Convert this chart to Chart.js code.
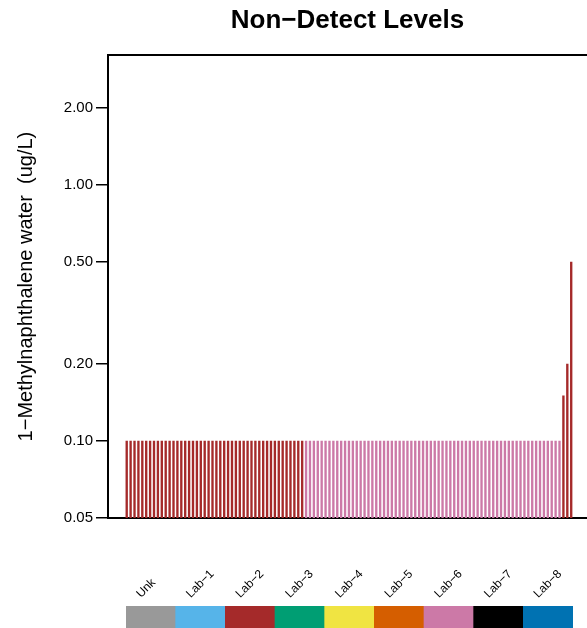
<!DOCTYPE html>
<html lang="en">
<head>
<meta charset="UTF-8">
<title>Non-Detect Levels</title>
<script src="https://cdn.jsdelivr.net/npm/chart.js"></script>
<style>
  body { margin: 0; background: #fff; overflow: hidden; }
  canvas { display: block; }
</style>
</head>
<body>
<canvas id="ndChart" width="587" height="560"></canvas>
<canvas id="labStrip" width="587" height="68"></canvas>
<script>
// non-detect reporting levels, in sample order
const lab2First = [
  0.10, 0.10, 0.10, 0.10, 0.10, 0.10, 0.10, 0.10, 0.10, 0.10,
  0.10, 0.10, 0.10, 0.10, 0.10, 0.10, 0.10, 0.10, 0.10, 0.10,
  0.10, 0.10, 0.10, 0.10, 0.10, 0.10, 0.10, 0.10, 0.10, 0.10,
  0.10, 0.10, 0.10, 0.10, 0.10, 0.10, 0.10, 0.10, 0.10, 0.10,
  0.10, 0.10, 0.10, 0.10, 0.10, 0.10
];
const lab6Values = [
  0.10, 0.10, 0.10, 0.10, 0.10, 0.10, 0.10, 0.10, 0.10, 0.10,
  0.10, 0.10, 0.10, 0.10, 0.10, 0.10, 0.10, 0.10, 0.10, 0.10,
  0.10, 0.10, 0.10, 0.10, 0.10, 0.10, 0.10, 0.10, 0.10, 0.10,
  0.10, 0.10, 0.10, 0.10, 0.10, 0.10, 0.10, 0.10, 0.10, 0.10,
  0.10, 0.10, 0.10, 0.10, 0.10, 0.10, 0.10, 0.10, 0.10, 0.10,
  0.10, 0.10, 0.10, 0.10, 0.10, 0.10, 0.10, 0.10, 0.10, 0.10,
  0.10, 0.10, 0.10, 0.10, 0.10, 0.10
];
const lab2Last = [0.15, 0.20, 0.50];

const yTicks = [0.05, 0.10, 0.20, 0.50, 1.00, 2.00];

const labs = ['Unk', 'Lab\u22121', 'Lab\u22122', 'Lab\u22123', 'Lab\u22124',
              'Lab\u22125', 'Lab\u22126', 'Lab\u22127', 'Lab\u22128'];
const labColors = ['#999999', '#56B4E9', '#A52A2A', '#009E73', '#F0E442',
                   '#D55E00', '#CC79A7', '#000000', '#0072B2'];
const stripValues = [1, 1, 1, 1, 1, 1, 1, 1, 1];

Chart.defaults.font.family = "'Liberation Sans', Arial, sans-serif";
Chart.defaults.color = '#000';

const colorOf = lab => labColors[labs.indexOf(lab)];
const samples = [
  ...lab2First.map(v => ({ y: v, lab: 'Lab\u22122' })),
  ...lab6Values.map(v => ({ y: v, lab: 'Lab\u22126' })),
  ...lab2Last.map(v => ({ y: v, lab: 'Lab\u22122' }))
];
const points = samples.map((s, i) => ({ x: i + 1, y: s.y }));
const barColors = samples.map(s => colorOf(s.lab));

const noPad = s => { s.height = 0; s.paddingLeft = 0; s.paddingRight = 0; };

new Chart(document.getElementById('ndChart'), {
  type: 'bar',
  data: {
    datasets: [{
      data: points,
      backgroundColor: barColors,
      borderWidth: 0,
      barThickness: 1.7,
      grouped: false
    }]
  },
  options: {
    responsive: false,
    animation: false,
    layout: { padding: { left: 0, right: 0, top: 0, bottom: 42 } },
    plugins: {
      legend: { display: false },
      tooltip: { enabled: false },
      title: {
        display: true,
        text: 'Non\u2212Detect Levels',
        fullSize: false,
        font: { size: 26, weight: 'bold' },
        color: '#000',
        padding: { top: 5, bottom: 19 }
      }
    },
    scales: {
      x: {
        type: 'linear',
        position: 'bottom',
        offset: false,
        min: -3.8,
        max: 119.05,
        ticks: { display: false },
        grid: { display: false, offset: false },
        border: { display: true, color: '#000', width: 2 },
        afterFit: noPad
      },
      x2: {
        type: 'linear',
        position: 'top',
        offset: false,
        min: -3.8,
        max: 119.05,
        ticks: { display: false },
        grid: { display: false, offset: false },
        border: { display: true, color: '#000', width: 2 },
        afterFit: noPad
      },
      y: {
        type: 'logarithmic',
        min: 0.05,
        max: 3.22,
        afterBuildTicks: s => { s.ticks = yTicks.map(v => ({ value: v })); },
        afterFit: s => { s.width = 108; },
        ticks: {
          autoSkip: false,
          padding: 3,
          font: { size: 15 },
          color: '#000',
          callback: v => Number(v).toFixed(2)
        },
        grid: {
          drawOnChartArea: false,
          drawTicks: true,
          tickLength: 12,
          color: '#000',
          lineWidth: 1.5
        },
        border: { display: true, color: '#000', width: 2 },
        title: {
          display: true,
          text: '1\u2212Methylnaphthalene water  (ug/L)',
          font: { size: 20 },
          color: '#000',
          padding: { top: 14, bottom: 0 }
        }
      }
    }
  }
});

// colour key for the labs
new Chart(document.getElementById('labStrip'), {
  type: 'bar',
  data: {
    labels: labs,
    datasets: [{
      data: stripValues,
      backgroundColor: labColors,
      borderWidth: 0,
      categoryPercentage: 1,
      barPercentage: 1
    }]
  },
  options: {
    responsive: false,
    animation: false,
    layout: { padding: { left: 126, right: 14, top: 0, bottom: 0 } },
    plugins: { legend: { display: false }, tooltip: { enabled: false } },
    scales: {
      x: {
        position: 'top',
        grid: { display: false },
        border: { display: false },
        ticks: {
          autoSkip: false,
          minRotation: 45,
          maxRotation: 45,
          labelOffset: -2,
          padding: -3,
          font: { size: 12 },
          color: '#000'
        },
        afterFit: s => { s.height = 46; s.paddingLeft = 0; s.paddingRight = 0; }
      },
      y: { display: false, min: 0, max: 1 }
    }
  }
});
</script>
</body>
</html>
